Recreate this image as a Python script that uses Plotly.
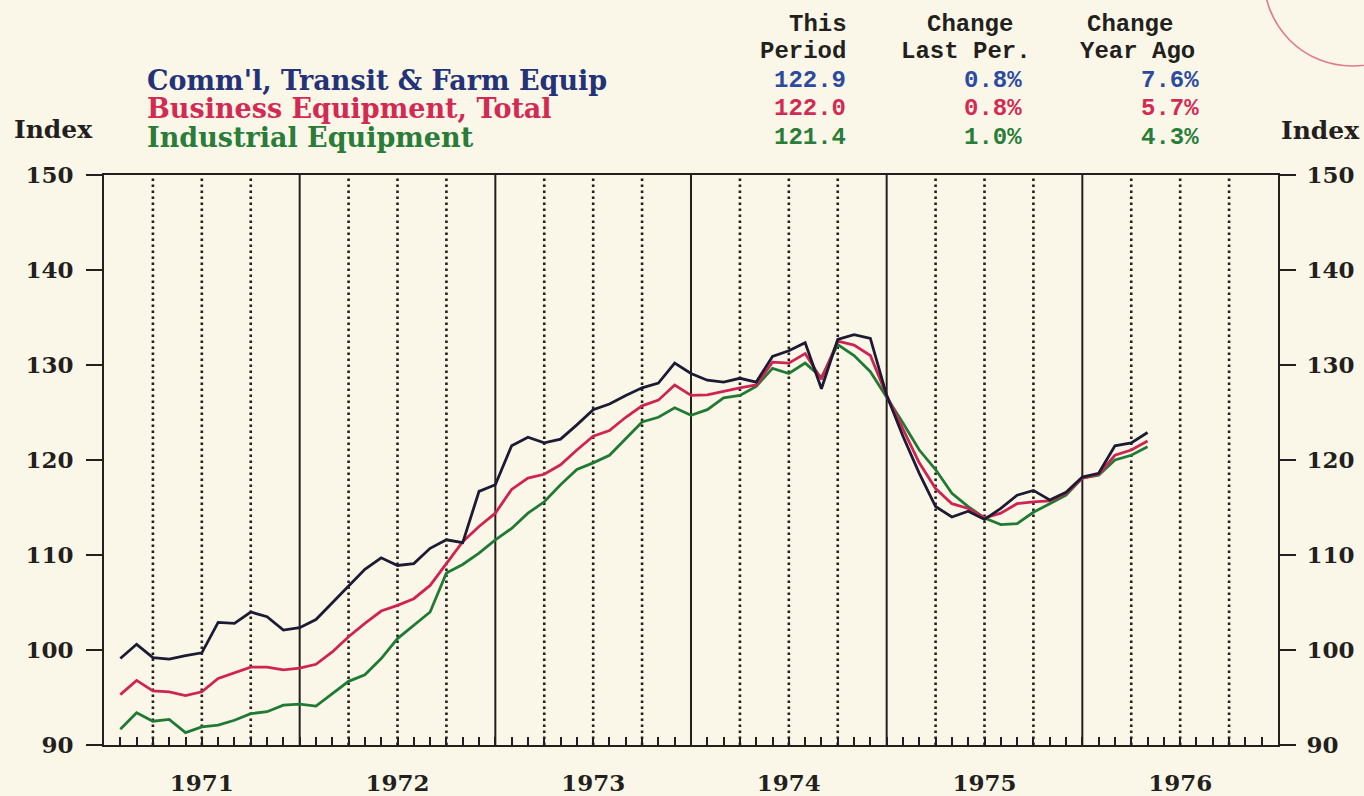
import plotly.graph_objects as go

# ---------------- data ----------------
# month index: 1 = Jan 1971 ... 64 = Apr 1976
months = list(range(1, 65))

comml = [99.1, 100.6, 99.2, 99.05, 99.4, 99.7, 102.9, 102.8, 104.0, 103.5, 102.1, 102.35,
         103.2, 105.0, 106.7, 108.5, 109.7, 108.9, 109.1, 110.7, 111.6, 111.3, 116.7, 117.4,
         121.5, 122.4, 121.8, 122.2, 123.7, 125.3, 125.9, 126.8, 127.6, 128.1, 130.2, 129.1,
         128.4, 128.2, 128.6, 128.2, 130.9, 131.5, 132.35, 127.5, 132.7, 133.2, 132.8, 126.8,
         122.5, 118.6, 115.1, 114.0, 114.6, 113.75, 114.9, 116.3, 116.8, 115.8, 116.6, 118.2,
         118.6, 121.5, 121.8, 122.9]

business = [95.3, 96.8, 95.7, 95.6, 95.2, 95.6, 97.0, 97.6, 98.2, 98.2, 97.9, 98.1,
            98.5, 99.8, 101.4, 102.8, 104.1, 104.7, 105.4, 106.8, 109.1, 111.4, 113.0, 114.4,
            116.9, 118.1, 118.5, 119.5, 121.05, 122.5, 123.1, 124.5, 125.7, 126.3, 127.9, 126.8,
            126.85, 127.25, 127.6, 127.9, 130.3, 130.2, 131.2, 128.5, 132.5, 132.1, 131.0, 126.8,
            123.2, 119.7, 117.0, 115.4, 114.9, 113.9, 114.4, 115.4, 115.6, 115.7, 116.5, 118.1,
            118.5, 120.5, 121.05, 122.0]

industrial = [91.65, 93.4, 92.5, 92.7, 91.3, 91.9, 92.1, 92.6, 93.3, 93.5, 94.2, 94.3,
              94.1, 95.4, 96.7, 97.4, 99.1, 101.2, 102.6, 104.0, 108.1, 109.0, 110.2, 111.6,
              112.8, 114.4, 115.6, 117.4, 119.0, 119.7, 120.5, 122.3, 124.0, 124.5, 125.5, 124.7,
              125.3, 126.55, 126.8, 127.75, 129.65, 129.1, 130.2, 128.7, 132.15, 131.0, 129.3, 126.6,
              123.9, 121.05, 119.0, 116.5, 115.1, 113.9, 113.2, 113.3, 114.5, 115.4, 116.3, 118.1,
              118.4, 120.0, 120.5, 121.4]

series_names = ["Comm'l, Transit & Farm Equip", "Business Equipment, Total", "Industrial Equipment"]
this_period = ["122.9", "122.0", "121.4"]
chg_last = ["0.8%", "0.8%", "1.0%"]
chg_year = ["7.6%", "5.7%", "4.3%"]

years = ["1971", "1972", "1973", "1974", "1975", "1976"]
y_ticks = [90, 100, 110, 120, 130, 140, 150]

# ---------------- style ----------------
W, H = 1364, 796
PL, PR, PT, PB = 104, 1278, 175, 745   # plot box in page pixels
L, R, T, B = PL, W - PR, PT, H - PB
BG = "#faf7e9"
INK = "#231f1c"
LINE_BLACK = "#1d1b33"
LINE_RED = "#cf2452"
LINE_GREEN = "#217a34"
TXT_BLUE = "#243277"
NUM_BLUE = "#2c4a9e"
TXT_RED = "#d32a54"
TXT_GREEN = "#2a7d38"
SERIF = "DejaVu Serif"
MONO = "Liberation Mono"

def px_x(p):
    return (p - PL) / (PR - PL)

def px_y(p):
    return (PB - p) / (PB - PT)

fig = go.Figure()
fig.add_trace(go.Scatter(x=months, y=industrial, mode="lines", name=series_names[2],
                         line=dict(color=LINE_GREEN, width=2.8), hoverinfo="skip"))
fig.add_trace(go.Scatter(x=months, y=business, mode="lines", name=series_names[1],
                         line=dict(color=LINE_RED, width=2.8), hoverinfo="skip"))
fig.add_trace(go.Scatter(x=months, y=comml, mode="lines", name=series_names[0],
                         line=dict(color=LINE_BLACK, width=2.8), hoverinfo="skip", yaxis="y2"))

# month ticks with year labels in mid-year
tickvals = list(range(1, 72))
ticktext = [years[(v // 12)] if v % 12 == 6 else "" for v in tickvals]

# vertical reference lines: solid at year boundaries, dotted at quarters
shapes = []
for q in range(3, 72, 3):
    if q % 12 == 0:
        shapes.append(dict(type="line", xref="x", yref="paper", x0=q, x1=q, y0=0, y1=1,
                           line=dict(color=INK, width=2), layer="below"))
    else:
        shapes.append(dict(type="line", xref="x", yref="paper", x0=q, x1=q, y0=0, y1=1,
                           line=dict(color=INK, width=2.6, dash="2.6px,3.4px"), layer="below"))

# faint archival stamp arc at top right
shapes.append(dict(type="circle", xref="paper", yref="paper",
                   x0=px_x(1264), x1=px_x(1440), y0=px_y(66), y1=px_y(-110),
                   line=dict(color="#e07a8a", width=1.6), layer="above"))

ann = []
# Index labels
for ix, iy in ((53, 129), (1320, 130)):
    ann.append(dict(text="Index", xref="paper", yref="paper", x=px_x(ix), y=px_y(iy),
                    xanchor="center", yanchor="middle", showarrow=False,
                    font=dict(family=SERIF, size=25, color=INK, weight="bold")))

name_colors = [TXT_BLUE, TXT_RED, TXT_GREEN]
num_colors = [NUM_BLUE, TXT_RED, TXT_GREEN]
row_y = [81, 108, 137]
for i in range(3):
    ann.append(dict(text=series_names[i], xref="paper", yref="paper", x=px_x(145), y=px_y(row_y[i]),
                    xanchor="left", yanchor="middle", showarrow=False,
                    font=dict(family=SERIF, size=27, color=name_colors[i], weight="bold")))
    for txt, rx in ((this_period[i], 848), (chg_last[i], 1024), (chg_year[i], 1201)):
        ann.append(dict(text=txt, xref="paper", yref="paper", x=px_x(rx), y=px_y(row_y[i]),
                        xanchor="right", yanchor="middle", showarrow=False,
                        font=dict(family=MONO, size=24, color=num_colors[i], weight="bold")))

headers = [("This", 787, 24), ("Period", 758, 51), ("Change", 925, 24), ("Last Per.", 899, 51),
           ("Change", 1085, 24), ("Year Ago", 1078, 51)]
for txt, hx, hy in headers:
    ann.append(dict(text=txt, xref="paper", yref="paper", x=px_x(hx), y=px_y(hy),
                    xanchor="left", yanchor="middle", showarrow=False,
                    font=dict(family=MONO, size=24, color=INK, weight="bold")))

axis_font = dict(family=SERIF, size=23, color=INK, weight="bold")

fig.update_layout(
    width=W, height=H,
    margin=dict(l=L, r=R, t=T, b=B, pad=0, autoexpand=False),
    paper_bgcolor=BG, plot_bgcolor=BG,
    showlegend=False,
    shapes=shapes, annotations=ann,
    xaxis=dict(range=[0, 72], tickmode="array", tickvals=tickvals, ticktext=ticktext,
               ticks="inside", ticklen=8, tickwidth=2, tickcolor=INK,
               showline=True, linewidth=2, linecolor=INK, mirror=True, automargin=False,
               showgrid=False, zeroline=False, tickfont=axis_font, ticklabelstandoff=16),
    yaxis=dict(range=[90, 150], tickmode="array", tickvals=y_ticks,
               ticks="outside", ticklen=16, tickwidth=2, tickcolor=INK, automargin=False,
               showline=True, linewidth=2, linecolor=INK,
               showgrid=False, zeroline=False, tickfont=axis_font, ticklabelstandoff=8),
    yaxis2=dict(range=[90, 150], overlaying="y", side="right", tickmode="array", tickvals=y_ticks,
                ticks="outside", ticklen=16, tickwidth=2, tickcolor=INK, automargin=False,
                showline=True, linewidth=2, linecolor=INK,
                showgrid=False, zeroline=False, tickfont=axis_font, ticklabelstandoff=6),
)

page_css = ("document.body.style.margin='0';document.body.style.padding='0';"
            "document.body.style.overflow='hidden';document.body.style.background='" + BG + "';")
fig.write_html("out.html", post_script=page_css, config={"displayModeBar": False})
